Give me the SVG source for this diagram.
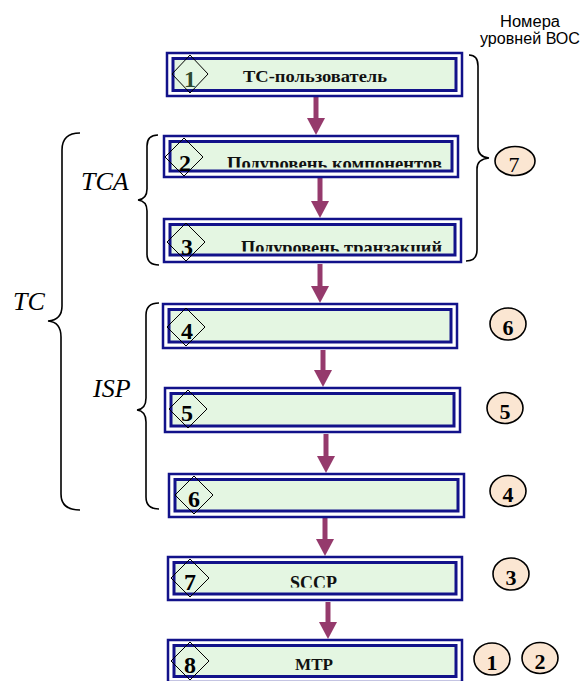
<svg xmlns="http://www.w3.org/2000/svg" width="582" height="681" viewBox="0 0 582 681">
<style>
.outer{fill:#ffffff;stroke:#12128a;stroke-width:2.5}
.inner{fill:#e4f6e2;stroke:#12128a;stroke-width:3}
.dia{fill:none;stroke:#000;stroke-width:1}
.srf{font-family:'Liberation Serif','Times New Roman','DejaVu Serif',serif}
.num{font-weight:bold;font-size:24px;fill:#000;text-anchor:middle}
.lbl{font-weight:bold;fill:#111}
.brace{fill:none;stroke:#000;stroke-width:1.6}
.ital{font-style:italic;font-size:26px;fill:#000}
.osi{fill:#fbe6d2;stroke:#000;stroke-width:1.6}
.osin{font-weight:bold;font-size:22px;fill:#000;text-anchor:middle}
.arr{stroke:#953a6c;stroke-width:5;fill:none;marker-end:url(#ah)}
.hdr{font-family:'Liberation Sans',Arial,sans-serif;font-size:16px;fill:#000;text-anchor:middle}
</style>
<defs>
<marker id="ah" viewBox="0 0 17 18" refX="7" refY="9" markerWidth="17" markerHeight="18" markerUnits="userSpaceOnUse" orient="auto">
<path d="M0 0 L17 9 L0 18 Z" fill="#953a6c"/>
</marker>
<clipPath id="c2" clipPathUnits="userSpaceOnUse"><rect x="0" y="0" width="582" height="167.5"/></clipPath>
<clipPath id="c3" clipPathUnits="userSpaceOnUse"><rect x="0" y="0" width="582" height="251.5"/></clipPath>
<clipPath id="c7" clipPathUnits="userSpaceOnUse"><rect x="0" y="0" width="582" height="587.5"/></clipPath>
</defs>

<g id="connectors">
<line class="arr" x1="316" y1="97" x2="316" y2="125"/>
<line class="arr" x1="320" y1="178" x2="320" y2="208"/>
<line class="arr" x1="320" y1="264" x2="320" y2="293"/>
<line class="arr" x1="323" y1="350" x2="323" y2="377"/>
<line class="arr" x1="326" y1="434" x2="326" y2="463"/>
<line class="arr" x1="325" y1="518" x2="325" y2="546"/>
<line class="arr" x1="328" y1="602" x2="328" y2="629"/>
</g>

<g id="node1">
<rect class="outer" x="167" y="53" width="295" height="43"/>
<rect class="inner" x="173" y="58.5" width="283" height="32"/>
<path class="dia" d="M190 55 L208 74 L190 93 L172 74 Z"/>
<text class="srf num" x="190" y="87" style="fill:#2f4a2f">1</text>
<text class="srf lbl" x="243" y="82" font-size="16" textLength="144" lengthAdjust="spacingAndGlyphs">TC-пользователь</text>
</g>

<g id="node2">
<rect class="outer" x="164" y="136" width="294" height="41"/>
<rect class="inner" x="170" y="141.5" width="282" height="29.5"/>
<path class="dia" d="M184 138 L203 157 L184 176 L165 157 Z"/>
<text class="srf num" x="185" y="171">2</text>
<text class="srf lbl" x="227" y="170" font-size="19" textLength="215" lengthAdjust="spacingAndGlyphs" clip-path="url(#c2)">Подуровень компонентов</text>
</g>

<g id="node3">
<rect class="outer" x="164" y="219" width="297" height="43"/>
<rect class="inner" x="170" y="224.5" width="285" height="30.5"/>
<path class="dia" d="M186 223 L205 242 L186 261 L167 242 Z"/>
<text class="srf num" x="187" y="255">3</text>
<text class="srf lbl" x="241" y="254" font-size="19" textLength="201" lengthAdjust="spacingAndGlyphs" clip-path="url(#c3)">Подуровень транзакций</text>
</g>

<g id="node4">
<rect class="outer" x="163" y="304" width="294" height="44"/>
<rect class="inner" x="169" y="309.5" width="282" height="32.5"/>
<path class="dia" d="M186 308 L205 327 L186 346 L167 327 Z"/>
<text class="srf num" x="187" y="339">4</text>
</g>

<g id="node5">
<rect class="outer" x="165" y="388" width="295" height="44"/>
<rect class="inner" x="171" y="393.5" width="283" height="32.5"/>
<path class="dia" d="M188 390 L207 409 L188 428 L169 409 Z"/>
<text class="srf num" x="187" y="421">5</text>
</g>

<g id="node6">
<rect class="outer" x="169" y="474" width="295" height="43"/>
<rect class="inner" x="175" y="479.5" width="283" height="31.5"/>
<path class="dia" d="M194 476 L213 495 L194 514 L175 495 Z"/>
<text class="srf num" x="194" y="507">6</text>
</g>

<g id="node7">
<rect class="outer" x="168" y="557" width="294" height="43"/>
<rect class="inner" x="174" y="562.5" width="282" height="31.5"/>
<path class="dia" d="M190 559 L209 578 L190 597 L171 578 Z"/>
<text class="srf num" x="190" y="590">7</text>
<text class="srf lbl" x="290" y="589" font-size="18" textLength="47" lengthAdjust="spacingAndGlyphs" clip-path="url(#c7)">SCCP</text>
</g>

<g id="node8">
<rect class="outer" x="168" y="640" width="294" height="42"/>
<rect class="inner" x="174" y="645.5" width="282" height="31"/>
<path class="dia" d="M190 642 L209 661 L190 680 L171 661 Z"/>
<text class="srf num" x="190" y="673">8</text>
<text class="srf lbl" x="295" y="670" font-size="17" textLength="38" lengthAdjust="spacingAndGlyphs">MTP</text>
</g>

<g id="braces">
<path class="brace" d="M469 55 Q478 55 478 66 L478 147 Q478 157 489 158 Q477 159 477 169 L477 250 Q477 261 466 261"/>
<path class="brace" d="M80 133 Q62 133 62 150 L62 306 Q62 320 48 321 Q61 322 61 337 L61 494 Q61 510 80 510"/>
<path class="brace" d="M158 135 Q147 135 147 146 L147 189 Q147 199 138 200 Q147 201 147 211 L147 254 Q147 265 159 265"/>
<path class="brace" d="M159 303 Q146 303 146 315 L146 398 Q146 409 137 410 Q146 411 146 422 L146 497 Q146 509 159 509"/>
</g>

<g id="group-labels">
<text class="srf ital" x="81" y="190">TCA</text>
<text class="srf ital" x="13" y="310">TC</text>
<text class="srf ital" x="93" y="397">ISP</text>
</g>

<g id="osi-header">
<text class="hdr" x="530" y="27" textLength="60" lengthAdjust="spacingAndGlyphs">Номера</text>
<text class="hdr" x="530" y="44" textLength="100" lengthAdjust="spacingAndGlyphs">уровней ВОС</text>
</g>

<g id="osi7">
<ellipse class="osi" cx="515" cy="161" rx="20" ry="14.5"/>
<text class="srf osin" x="514" y="172" style="font-weight:normal">7</text>
</g>
<g id="osi6">
<ellipse class="osi" cx="508" cy="324" rx="18" ry="16"/>
<text class="srf osin" x="508" y="335">6</text>
</g>
<g id="osi5">
<ellipse class="osi" cx="505" cy="408" rx="18" ry="15.5"/>
<text class="srf osin" x="505" y="419">5</text>
</g>
<g id="osi4">
<ellipse class="osi" cx="508" cy="491" rx="18" ry="15.5"/>
<text class="srf osin" x="508" y="502">4</text>
</g>
<g id="osi3">
<ellipse class="osi" cx="511" cy="574" rx="18" ry="16"/>
<text class="srf osin" x="511" y="585">3</text>
</g>
<g id="osi1">
<ellipse class="osi" cx="492" cy="659" rx="18" ry="16"/>
<text class="srf osin" x="492" y="670">1</text>
</g>
<g id="osi2">
<ellipse class="osi" cx="540" cy="658" rx="18" ry="15.5"/>
<text class="srf osin" x="540" y="669">2</text>
</g>
</svg>
